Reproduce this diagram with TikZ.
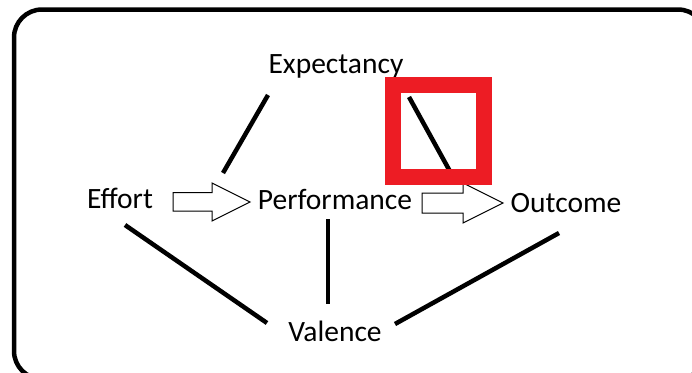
\documentclass[tikz,border=0pt]{standalone}
\usepackage{fontspec}
\setmainfont{Carlito}
\definecolor{paintred}{HTML}{ED1C24}
\begin{document}
\begin{tikzpicture}[x=1pt,y=-1pt,
  lbl/.style={inner sep=0pt, anchor=base, font=\fontsize{29.5}{34}\selectfont},
  link/.style={line width=4.5pt, line cap=butt},
  blockarrow/.style={draw=black, line width=1pt, fill=white, line join=miter}]
\useasboundingbox (0,0) rectangle (692,372);
\begin{scope}
\clip (0,0) rectangle (692,372);
\draw[line width=4.5pt, rounded corners=28pt] (14,9.5) rectangle (706,379);
\end{scope}
% labels
\node[lbl] (exp) at (336,73) {Expectancy};
\node[lbl] (eff) at (120,208) {Effort};
\node[lbl] (perf) at (335,209) {Performance};
\node[lbl] (out) at (566,212) {Outcome};
\node[lbl] (val) at (335,341) {Valence};
% connector end points
\coordinate (e1) at (268,95);
\coordinate (p1) at (223,173);
\coordinate (e2) at (409,97);
\coordinate (o2) at (452,175);
\coordinate (f3) at (125,225);
\coordinate (v3) at (267,323);
\coordinate (p4) at (328,219);
\coordinate (v4) at (328,304);
\coordinate (o5) at (559,233);
\coordinate (v5) at (395,324);
\draw[link] (e1) -- (p1);
\draw[link] (e2) -- (o2);
\draw[link] (f3) -- (v3);
\draw[link] (p4) -- (v4);
\draw[link] (o5) -- (v5);
% block arrows
\coordinate (a1) at (173,202);
\coordinate (a2) at (422,203);
\draw[blockarrow] (a1) ++(0,-9.5) -- ++(39,0) -- ++(0,-9.5) -- (250,202) -- (212,221) -- ++(0,-10) -- ++(-39,0) -- cycle;
\draw[blockarrow] (a2) ++(0,-10) -- ++(41,0) -- ++(0,-10) -- (503,203) -- (463,223) -- ++(0,-10) -- ++(-41,0) -- cycle;
% red highlight box
\draw[paintred, line width=16pt, line join=miter] (393,85) rectangle (484,177);
\end{tikzpicture}
\end{document}
